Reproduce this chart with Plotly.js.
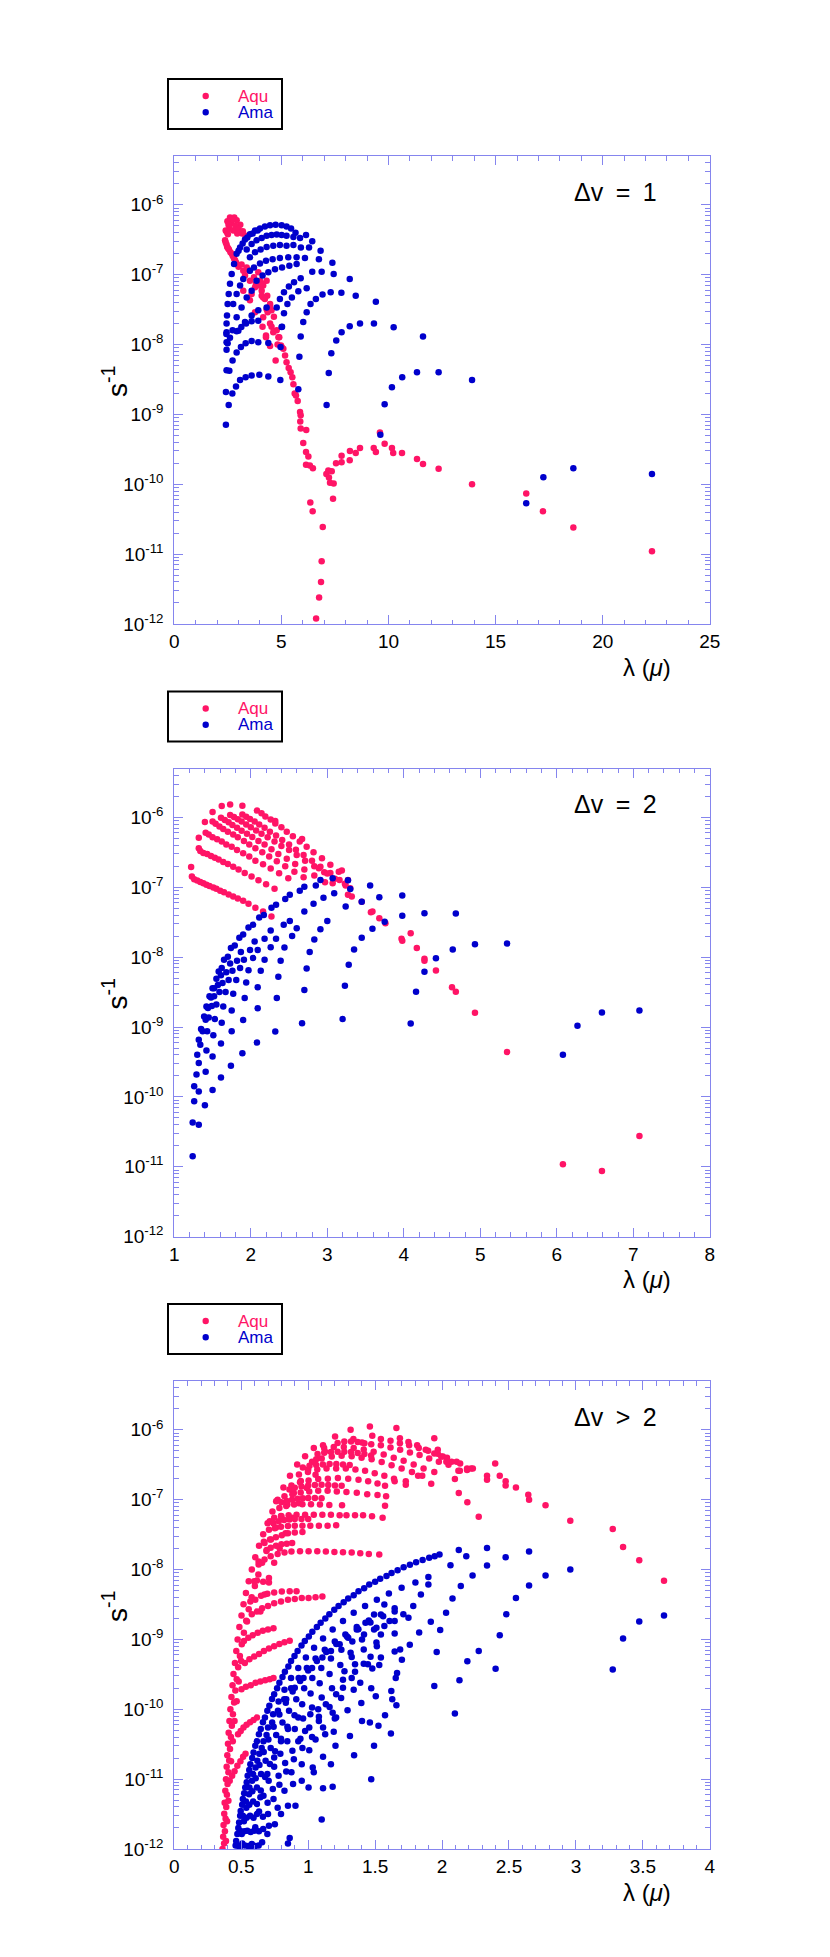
<!DOCTYPE html>
<html>
<head>
<meta charset="utf-8">
<script src="https://cdn.plot.ly/plotly-3.0.1.min.js"></script>
<style>
  html, body { margin: 0; padding: 0; background: #fff; }
  #chart { width: 830px; height: 1957px; }
</style>
</head>
<body>
<div id="chart"></div>
<script>
// values: [lambda (micron), rate (s^-1)]

// ---- panel 1 : dv = 1 ----
var aqu1 = [
  [2.60,6.6e-7],[2.80,6.6e-7],[2.91,6.0e-7],[3.08,5.2e-7],[2.40,4.3e-7],[2.57,4.6e-7],[2.75,4.3e-7],
  [2.94,3.9e-7],[3.17,3.9e-7],[3.33,3.6e-7],[2.37,3.1e-7],[2.44,2.7e-7],[2.55,2.3e-7],[2.68,2.0e-7],
  [2.79,1.7e-7],[2.88,1.5e-7],[3.00,1.3e-7],[3.14,1.4e-7],[3.22,1.14e-7],[3.38,1.27e-7],[3.30,9.7e-8],
  [3.49,1.14e-7],[3.53,8.2e-8],[3.72,9.2e-8],[3.92,1.08e-7],[3.81,7.4e-8],[4.00,8.2e-8],[4.15,7.0e-8],
  [4.31,8.2e-8],[4.08,5.9e-8],[4.15,4.7e-8],[4.34,5.0e-8],[4.47,3.8e-8],[4.31,3.2e-8],[4.54,3.1e-8],
  [4.65,2.5e-8],[4.54,1.8e-8],[4.78,1.6e-8],[4.90,1.27e-8],[4.82,1.0e-8],[5.01,9.2e-9],[3.77,2.9e-8],
  [4.12,1.8e-8],[4.28,1.27e-8],[3.53,4.3e-8],[3.22,5.9e-8],
  [2.40,2.9e-7],[2.47,2.5e-7],[2.51,2.4e-7],[2.62,2.1e-7],[2.73,1.85e-7],[2.84,1.6e-7],[2.94,1.4e-7],
  [2.45,4.1e-7],[2.50,3.8e-7],[2.65,5.5e-7],[2.70,6.2e-7],[2.85,5.0e-7],[3.00,4.5e-7],[3.20,4.2e-7],
  [2.48,5.8e-7],[2.53,5.2e-7],
  [3.61,5.3e-8],[3.77,6.6e-8],[3.97,7.0e-8],[4.12,7.4e-8],[4.08,5.0e-8],[4.23,4.5e-8],[4.47,3.6e-8],
  [4.36,2.9e-8],[4.15,2.45e-8],[4.47,2.0e-8],[4.62,1.5e-8],[4.86,1.27e-8],[4.73,5.9e-9],[4.98,9.7e-9],
  [5.09,8.7e-9],[5.17,7.0e-9],[5.24,5.6e-9],[5.34,4.6e-9],[5.43,4.0e-9],[5.51,3.4e-9],[5.56,2.7e-9],
  [5.62,2.0e-9],[5.68,1.87e-9],[5.76,1.55e-9],[5.87,1.08e-9],[5.90,9.7e-10],[4.47,9.5e-9],[4.28,1.35e-8],
  [5.88,7.9e-10],[5.90,6.3e-10],[6.16,6.0e-10],[6.02,3.9e-10],[6.15,2.9e-10],[6.26,2.5e-10],[6.15,1.9e-10],
  [6.33,1.85e-10],[6.47,1.7e-10],[6.35,5.5e-11],[6.46,4.1e-11],[6.93,2.45e-11],[7.10,1.4e-10],[7.19,1.58e-10],
  [7.22,1.25e-10],[7.35,1.53e-10],[7.27,1.05e-10],[7.44,1.03e-10],[7.41,6.2e-11],[7.55,2.0e-10],[7.81,2.06e-10],
  [7.81,2.57e-10],[8.19,2.2e-10],[8.20,3.0e-10],[8.47,2.8e-10],[8.67,3.3e-10],[9.31,3.3e-10],[9.41,2.9e-10],
  [9.60,5.5e-10],[9.82,3.8e-10],[10.16,3.3e-10],[10.22,2.8e-10],[10.63,2.8e-10],[11.33,2.3e-10],[11.61,1.95e-10],
  [12.34,1.67e-10],[13.90,1.0e-10],[16.43,7.4e-11],[17.21,4.1e-11],[18.63,2.4e-11],[22.3,1.1e-11],
  [6.88,7.9e-12],[6.85,4.0e-12],[6.76,2.4e-12],[6.62,1.2e-12]
];
var ama1 = [
  [2.41,7.1e-10],[2.54,1.36e-9],[2.71,2.0e-9],[2.88,2.5e-9],[3.07,3.1e-9],[3.33,3.4e-9],[3.61,3.6e-9],
  [3.97,3.7e-9],[4.39,3.5e-9],[4.95,3.1e-9],[5.79,2.3e-9],[2.41,2.1e-9],[2.44,4.3e-9],[2.57,4.2e-9],
  [2.72,5.9e-9],[2.91,7.7e-9],[3.11,9.2e-9],[3.33,1.04e-8],[3.61,1.12e-8],[3.92,1.08e-8],[4.39,1.05e-8],
  [4.96,9.2e-9],[5.84,6.7e-9],[7.11,1.36e-9],[7.21,3.9e-9],[7.33,7.5e-9],[2.44,8.4e-9],[2.49,1.04e-8],
  [2.60,1.25e-8],[2.44,1.5e-8],[2.72,1.6e-8],[2.91,1.55e-8],[3.13,1.78e-8],[3.35,2.0e-8],[3.61,2.15e-8],
  [3.92,2.2e-8],[5.01,1.78e-8],[5.12,2.8e-8],[5.90,1.3e-8],[6.02,2.1e-8],[6.18,2.9e-8],[6.36,3.8e-8],
  [6.61,4.5e-8],[6.92,5.2e-8],[7.30,5.6e-8],[7.80,5.5e-8],[8.47,5.0e-8],[9.41,4.1e-8],
  [7.56,1.14e-8],[7.81,1.5e-8],[8.19,1.83e-8],[8.67,2.0e-8],[9.32,2.0e-8],[10.24,1.77e-8],[11.61,1.3e-8],
  [9.82,1.4e-9],[10.16,2.45e-9],[10.64,3.4e-9],[11.33,4.0e-9],[12.34,4.0e-9],[13.90,3.1e-9],
  [16.43,5.35e-11],[17.23,1.26e-10],[18.63,1.7e-10],[22.3,1.4e-10],[9.62,5.1e-10],
  [3.30,3.2e-7],[3.53,3.8e-7],[3.77,4.3e-7],[4.00,4.6e-7],[4.23,4.9e-7],[4.47,5.1e-7],[4.73,5.2e-7],
  [5.01,5.1e-7],[5.24,4.9e-7],[5.45,4.6e-7],[5.66,4.0e-7],[3.07,2.45e-7],[2.91,2.0e-7],[2.79,1.42e-7],
  [2.68,1.02e-7],[2.60,7.4e-8],[2.54,5.3e-8],[2.49,3.8e-8],[2.46,2.6e-8],[2.44,2.0e-8],[2.43,1.42e-8],
  [2.44,1.08e-8],
  [3.38,2.3e-7],[3.61,2.75e-7],[3.84,3.1e-7],[4.08,3.35e-7],[4.31,3.6e-7],[4.54,3.7e-7],[4.78,3.75e-7],
  [5.01,3.7e-7],[5.24,3.6e-7],[5.56,3.45e-7],[5.87,3.35e-7],[6.15,3.7e-7],[6.44,3.0e-7],[6.83,2.2e-7],
  [3.53,1.78e-7],[3.77,2.1e-7],[4.03,2.3e-7],[4.31,2.5e-7],[4.62,2.6e-7],[4.93,2.65e-7],[5.24,2.6e-7],
  [5.56,2.65e-7],[5.91,2.45e-7],[6.29,2.45e-7],[6.75,1.67e-7],[7.38,1.48e-7],
  [3.72,1.27e-7],[4.00,1.45e-7],[4.28,1.58e-7],[4.59,1.67e-7],[4.93,1.73e-7],[5.32,1.77e-7],[5.71,1.77e-7],
  [6.10,1.73e-7],
  [3.84,8.2e-8],[4.12,9.7e-8],[4.39,1.08e-7],[4.70,1.2e-7],[5.03,1.27e-7],[5.37,1.34e-7],[5.71,1.42e-7],
  [6.44,1.1e-7],[6.88,1.1e-7],[7.44,1.02e-7],[8.19,8.7e-8],
  [4.78,3.4e-8],[4.93,4.5e-8],[5.12,5.6e-8],[5.35,6.8e-8],[5.59,7.8e-8],[5.90,8.9e-8],
  [5.03,1.8e-8],[5.28,3.8e-8],[5.49,4.7e-8],[5.79,5.8e-8],[6.18,6.4e-8],
  [2.75,3.8e-8],[2.91,5.3e-8],[3.07,7.0e-8],[3.22,8.7e-8],[3.53,1.14e-7],[2.91,2.45e-8],[3.14,3.4e-8],
  [3.38,4.7e-8],[3.61,5.9e-8],[2.99,1.58e-8],[3.30,2.1e-8],[3.61,2.6e-8],[3.92,3.1e-8],[4.31,3.4e-8],
  [3.00,2.2e-7],[3.19,2.8e-7],[3.41,3.4e-7],[3.66,3.9e-7],[3.89,4.3e-7]
];

// ---- panel 2 : dv = 2 ----
var aqu2 = [
  [1.50,1.19e-6],[1.62,1.45e-6],[1.73,1.53e-6],[1.89,1.47e-6],[2.08,1.25e-6],[2.32,8.9e-7],[2.67,4.9e-7],
  [3.19,1.73e-7],[1.40,8.6e-7],[1.32,5.1e-7],[1.32,3.6e-7],[1.22,1.95e-7],[1.23,1.42e-7],
  [1.26,1.30e-7],[1.30,1.25e-7],[1.34,1.19e-7],[1.38,1.14e-7],[1.42,1.09e-7],[1.46,1.04e-7],[1.51,9.9e-8],
  [1.55,9.5e-8],[1.60,8.9e-8],[1.65,8.5e-8],[1.71,7.9e-8],[1.77,7.4e-8],[1.83,6.9e-8],[1.90,6.4e-8],
  [1.97,5.8e-8],[2.06,5.1e-8],[2.16,4.5e-8],[2.27,3.8e-8],
  [1.34,3.3e-7],[1.38,3.1e-7],[1.43,3.0e-7],[1.48,2.8e-7],[1.53,2.65e-7],[1.58,2.5e-7],[1.64,2.3e-7],
  [1.70,2.15e-7],[1.77,1.97e-7],[1.84,1.79e-7],[1.92,1.6e-7],[2.01,1.42e-7],[2.10,1.26e-7],[2.20,1.1e-7],
  [2.31,9.5e-8],
  [1.41,6.0e-7],[1.45,5.7e-7],[1.50,5.2e-7],[1.56,4.85e-7],[1.62,4.5e-7],[1.68,4.1e-7],[1.75,3.8e-7],
  [1.82,3.4e-7],[1.90,3.06e-7],[1.98,2.75e-7],[2.06,2.4e-7],[2.16,2.13e-7],[2.26,1.85e-7],[2.37,1.58e-7],
  [2.49,1.35e-7],
  [1.50,8.7e-7],[1.54,8.1e-7],[1.59,7.4e-7],[1.64,6.8e-7],[1.70,6.2e-7],[1.77,5.7e-7],[1.83,5.2e-7],
  [1.91,4.6e-7],[1.98,4.1e-7],[2.06,3.6e-7],[2.15,3.16e-7],[2.24,2.75e-7],[2.34,2.35e-7],[2.45,2.0e-7],
  [2.57,1.67e-7],[2.69,1.39e-7],
  [1.61,9.9e-7],[1.66,9.2e-7],[1.71,8.5e-7],[1.76,7.8e-7],[1.82,7.1e-7],[1.88,6.45e-7],[1.95,5.85e-7],
  [2.02,5.25e-7],[2.10,4.6e-7],[2.18,4.1e-7],[2.27,3.5e-7],[2.36,3.0e-7],[2.47,2.55e-7],[2.58,2.15e-7],
  [2.70,1.79e-7],[2.83,1.47e-7],[2.97,1.18e-7],
  [1.73,1.08e-6],[1.78,1.01e-6],[1.83,9.4e-7],[1.88,8.7e-7],[1.94,7.9e-7],[2.00,7.2e-7],[2.07,6.5e-7],
  [2.14,5.85e-7],[2.22,5.2e-7],[2.31,4.5e-7],[2.40,3.9e-7],[2.50,3.4e-7],[2.60,2.9e-7],[2.71,2.4e-7],
  [2.83,2.0e-7],[2.96,1.64e-7],[3.10,1.32e-7],[3.24,1.06e-7],
  [1.89,1.1e-6],[1.94,1.02e-6],[1.99,9.5e-7],[2.05,8.7e-7],[2.11,7.9e-7],[2.18,7.1e-7],[2.25,6.2e-7],
  [2.33,5.5e-7],[2.41,4.75e-7],[2.50,4.1e-7],[2.59,3.45e-7],[2.69,2.9e-7],[2.80,2.4e-7],[2.91,1.97e-7],
  [3.04,1.6e-7],[3.16,1.27e-7],[3.30,9.7e-8],[3.45,6.2e-8],
  [2.14,1.14e-6],[2.19,1.03e-6],[2.26,9.3e-7],[2.32,8.2e-7],[2.40,7.2e-7],[2.47,6.2e-7],[2.55,5.35e-7],
  [2.64,4.5e-7],[2.73,3.8e-7],[2.82,3.16e-7],[2.93,2.6e-7],[3.04,2.1e-7],[3.15,1.67e-7],[3.27,1.27e-7],
  [3.23,1.12e-7],[3.27,7.8e-8],[3.32,7.4e-8],[3.57,4.4e-8],[3.59,4.5e-8],[3.68,3.6e-8],[3.76,3.06e-8],
  [3.97,1.83e-8],[3.98,1.71e-8],[4.09,2.2e-8],[4.17,1.35e-8],[4.27,9.5e-9],[4.27,8.9e-9],[4.42,6.45e-9],
  [4.63,3.7e-9],[4.68,3.2e-9],[4.93,1.6e-9],[5.35,4.4e-10],[6.08,1.09e-11],[6.59,8.7e-12],[7.08,2.75e-11],
  [2.89,1.87e-7],[3.00,1.57e-7],[3.07,1.14e-7]
];
var ama2 = [
  [1.24,1.42e-11],[1.32,4.0e-11],[1.24,4.3e-11],[1.40,7.6e-11],[1.50,1.26e-10],[1.61,1.9e-10],[1.74,2.8e-10],
  [1.89,4.2e-10],[2.08,6.0e-10],[2.32,8.6e-10],[2.67,1.13e-9],[3.20,1.3e-9],[4.09,1.12e-9],[6.08,4.0e-10],
  [1.26,8.7e-11],[1.32,1.2e-10],[1.41,2.3e-10],[1.50,3.8e-10],[1.61,5.8e-10],[1.75,8.7e-10],[1.90,1.26e-9],
  [2.09,1.85e-9],[2.34,2.6e-9],[2.70,3.4e-9],[3.23,3.9e-9],[4.16,3.2e-9],[6.27,1.04e-9],
  [1.26,1.42e-10],[1.29,2.1e-10],[1.32,3.06e-10],[1.42,4.6e-10],[1.51,7.6e-10],[1.62,1.15e-9],[1.75,1.73e-9],
  [1.92,2.6e-9],[2.09,3.7e-9],[2.36,5.25e-9],[2.73,6.9e-9],[3.28,7.8e-9],[4.27,6.2e-9],[6.59,1.62e-9],
  [1.30,4.0e-10],[1.34,5.6e-10],[1.43,8.7e-10],[1.53,1.3e-9],[1.64,1.97e-9],[1.77,3.0e-9],[1.94,4.35e-9],
  [2.13,6.4e-9],[2.39,8.9e-9],[2.77,1.18e-8],[3.35,1.29e-8],[4.42,9.6e-9],[7.08,1.73e-9],
  [1.32,6.6e-10],[1.37,8.7e-10],[1.45,1.37e-9],[1.55,2.1e-9],[1.67,3.16e-9],[1.81,4.7e-9],[1.97,6.5e-9],
  [2.18,9.2e-9],[2.44,1.37e-8],[2.83,1.79e-8],[3.45,1.9e-8],[4.64,1.29e-8],
  [1.35,9.4e-10],[1.41,1.27e-9],[1.49,2.0e-9],[1.59,3.16e-9],[1.71,4.7e-9],[1.86,7.0e-9],[2.03,9.7e-9],
  [2.26,1.39e-8],[2.54,2.0e-8],[2.91,2.5e-8],[3.59,2.55e-8],[4.93,1.53e-8],
  [1.39,1.42e-9],[1.44,1.87e-9],[1.52,2.75e-9],[1.63,4.25e-9],[1.76,6.4e-9],[1.91,9.2e-9],[2.09,1.27e-8],
  [2.33,1.83e-8],[2.60,2.6e-8],[3.00,3.3e-8],[3.75,3.2e-8],[5.35,1.57e-8],
  [1.42,1.97e-9],[1.48,2.65e-9],[1.57,4.0e-9],[1.68,6.1e-9],[1.82,8.9e-9],[1.99,1.27e-8],[2.18,1.83e-8],
  [2.43,2.9e-8],[2.70,4.5e-8],[2.95,7.1e-8],[3.24,5.3e-8],[3.98,3.9e-8],[4.68,4.2e-8],
  [1.46,2.75e-9],[1.52,3.6e-9],[1.61,5.5e-9],[1.73,8.1e-9],[1.87,1.18e-8],[2.05,1.67e-8],[2.26,2.4e-8],
  [2.51,3.3e-8],[2.82,5.8e-8],[3.09,8.2e-8],[3.45,6.2e-8],[3.98,7.6e-8],[4.27,4.25e-8],
  [1.50,3.6e-9],[1.55,4.9e-9],[1.62,7.0e-9],[1.70,1.01e-8],[1.79,1.47e-8],[1.90,2.1e-8],[2.03,2.9e-8],
  [2.17,4.0e-8],[2.33,5.6e-8],[2.51,7.8e-8],[2.70,1.02e-7],[2.91,1.27e-7],[3.07,1.35e-7],[3.27,1.26e-7],
  [3.56,1.06e-7],[3.68,7.2e-8],
  [1.58,6.25e-9],[1.65,9.2e-9],[1.74,1.35e-8],[1.85,1.9e-8],[1.97,2.65e-8],[2.11,3.7e-8],[2.27,5.1e-8],
  [2.45,6.8e-8],[2.64,8.9e-8],[2.85,1.06e-7],[3.30,9.4e-8]
];

// ---- panel 3 : dv > 2 ----
var aqu3 = [
  [0.360,1.0e-12],[0.365,1.5e-12],[0.368,2.2e-12],[0.373,3.2e-12],[0.376,4.6e-12],[0.381,6.8e-12],
  [0.386,1.0e-11],[0.391,1.5e-11],[0.396,2.2e-11],[0.401,3.2e-11],[0.406,4.6e-11],[0.412,6.8e-11],
  [0.419,1.0e-10],[0.427,1.5e-10],[0.435,2.2e-10],[0.442,3.2e-10],[0.453,4.6e-10],[0.463,6.8e-10],
  [0.473,1.0e-9],[0.486,1.5e-9],[0.502,2.2e-9],[0.517,3.2e-9],[0.535,4.6e-9],[0.556,6.8e-9],
  [0.579,1.0e-8],[0.605,1.5e-8],[0.633,2.2e-8],[0.664,3.2e-8],[0.697,4.6e-8],[0.733,6.8e-8],
  [0.772,1.0e-7],[0.815,1.5e-7],[0.864,2.2e-7],[0.918,3.2e-7],[0.977,4.2e-7],[1.042,5.5e-7],[1.111,6.0e-7],
  [0.386,1.3e-12],[0.394,2.5e-12],[0.404,4.9e-12],[0.414,9.5e-12],[0.424,1.8e-11],[0.437,3.5e-11],
  [0.450,6.8e-11],[0.466,1.3e-10],[0.481,2.5e-10],[0.499,4.9e-10],[0.520,9.5e-10],[0.543,1.8e-9],
  [0.568,3.5e-9],[0.597,6.8e-9],[0.630,1.3e-8],[0.669,2.5e-8],[0.713,4.9e-8],[0.761,9.5e-8],
  [0.372,1.2e-12],[0.378,1.8e-12],[0.383,2.7e-12],[0.388,4.0e-12],[0.393,6.0e-12],[0.398,8.5e-12],
  [0.404,1.25e-11],[0.410,1.85e-11],[0.416,2.7e-11],[0.423,4.0e-11],[0.430,5.8e-11],[0.438,8.5e-11],
  [0.447,1.25e-10],[0.456,1.85e-10],[0.466,2.7e-10],[0.477,4.0e-10],[0.490,5.8e-10],[0.504,8.5e-10],
  [0.520,1.25e-9],[0.537,1.85e-9],[0.556,2.7e-9],[0.578,4.0e-9],[0.602,5.8e-9],[0.628,8.5e-9],
  [0.656,1.25e-8],[0.688,1.85e-8],[0.722,2.7e-8],[0.760,4.0e-8],[0.800,5.8e-8],[0.845,8.5e-8],
  [0.893,1.25e-7],[0.945,1.85e-7],[1.000,2.7e-7],[1.060,3.8e-7],[1.125,4.9e-7],
  [0.643,2.5e-9],[0.674,4.4e-9],[0.707,7.6e-9],[0.746,1.25e-8],[0.787,2.0e-8],[0.831,3.3e-8],
  [0.880,5.5e-8],[0.931,8.9e-8],[0.990,1.47e-7],[1.055,2.27e-7],
  [0.432,1.12e-11],[0.450,1.3e-11],[0.471,1.55e-11],[0.494,1.8e-11],[0.514,2.1e-11],[0.532,2.3e-11],
  [0.476,4.4e-11],[0.496,4.9e-11],[0.517,5.5e-11],[0.540,6.0e-11],[0.566,6.5e-11],[0.592,7.0e-11],[0.617,7.6e-11],
  [0.502,1.93e-10],[0.535,2.1e-10],[0.571,2.2e-10],[0.607,2.4e-10],[0.643,2.5e-10],[0.679,2.6e-10],
  [0.713,2.7e-10],[0.741,2.8e-10],
  [0.527,4.6e-10],[0.561,5.2e-10],[0.597,5.7e-10],[0.633,6.2e-10],[0.669,6.8e-10],[0.707,7.4e-10],
  [0.746,8.0e-10],[0.785,8.6e-10],[0.823,9.1e-10],[0.862,9.6e-10],
  [0.553,1.06e-9],[0.586,1.15e-9],[0.623,1.25e-9],[0.661,1.33e-9],[0.700,1.39e-9],[0.741,1.44e-9],
  [0.579,2.3e-9],[0.617,2.5e-9],[0.656,2.8e-9],[0.700,3.0e-9],[0.746,3.3e-9],[0.797,3.5e-9],[0.849,3.7e-9],
  [0.900,3.8e-9],[0.952,3.9e-9],[1.003,3.9e-9],[1.055,4.0e-9],[1.106,4.1e-9],
  [0.605,3.7e-9],[0.648,4.2e-9],[0.695,4.5e-9],[0.746,4.7e-9],[0.803,4.85e-9],[0.862,4.9e-9],[0.913,4.9e-9],
  [0.617,7.0e-9],[0.664,6.7e-9],[0.707,6.5e-9],
  [0.630,1.18e-8],[0.674,1.39e-8],[0.720,1.55e-8],[0.772,1.67e-8],[0.823,1.75e-8],[0.875,1.81e-8],
  [0.939,1.83e-8],[1.003,1.83e-8],[1.068,1.83e-8],[1.132,1.81e-8],[1.196,1.79e-8],[1.260,1.77e-8],
  [1.325,1.75e-8],[1.389,1.71e-8],[1.453,1.67e-8],[1.531,1.64e-8],
  [0.674,2.4e-8],[0.715,2.7e-8],[0.759,2.9e-8],[0.803,3.1e-8],[0.849,3.3e-8],[0.900,3.4e-8],[0.957,3.45e-8],
  [0.707,3.7e-8],[0.751,3.9e-8],[0.797,4.1e-8],[0.849,4.2e-8],[0.900,4.25e-8],[0.957,4.25e-8],
  [1.016,4.25e-8],[1.080,4.25e-8],[1.145,4.25e-8],[1.209,4.3e-8],
  [0.746,5.5e-8],[0.797,5.85e-8],[0.854,6.0e-8],[0.913,6.1e-8],[0.977,6.1e-8],[1.042,6.1e-8],[1.106,6.1e-8],
  [1.170,6.1e-8],[1.235,6.0e-8],[1.286,6.0e-8],[1.350,6.0e-8],[1.410,6.0e-8],[1.477,5.8e-8],[1.556,5.5e-8],
  [0.785,7.6e-8],[0.836,8.1e-8],[0.895,8.5e-8],[0.957,8.6e-8],[1.021,8.6e-8],[1.088,8.5e-8],[1.158,8.4e-8],
  [1.253,8.3e-8],[1.574,8.2e-8],
  [0.823,1.12e-7],[0.882,1.2e-7],[0.944,1.27e-7],[1.008,1.31e-7],[1.075,1.34e-7],[1.145,1.34e-7],
  [1.214,1.31e-7],[1.286,1.29e-7],[1.363,1.26e-7],[1.441,1.2e-7],[1.518,1.17e-7],[1.582,1.12e-7],
  [0.875,1.6e-7],[0.939,1.77e-7],[1.003,1.89e-7],[1.075,1.97e-7],[1.147,2.0e-7],[1.222,2.04e-7],
  [1.299,2.0e-7],[1.376,1.93e-7],[1.448,1.83e-7],[1.518,1.71e-7],[1.574,1.58e-7],
  [0.931,2.3e-7],[0.998,2.5e-7],[1.068,2.7e-7],[1.137,2.8e-7],[1.209,2.8e-7],[1.281,2.8e-7],[1.353,2.7e-7],
  [1.425,2.6e-7],[1.497,2.4e-7],[1.569,2.2e-7],[1.641,2.0e-7],[1.729,1.83e-7],
  [1.029,3.5e-7],[1.101,3.9e-7],[1.176,4.15e-7],[1.250,4.25e-7],[1.325,4.2e-7],[1.399,4.0e-7],
  [1.474,3.8e-7],[1.549,3.45e-7],[1.623,3.1e-7],[1.698,2.8e-7],[1.775,2.5e-7],[1.852,2.2e-7],
  [1.119,5.5e-7],[1.191,5.7e-7],[1.266,5.7e-7],[1.340,5.5e-7],[1.415,5.25e-7],[1.489,4.85e-7],
  [1.564,4.45e-7],[1.639,4.0e-7],[1.713,3.6e-7],[1.788,3.2e-7],[1.862,2.8e-7],[1.942,2.5e-7],
  [1.317,1.0e-6],[1.338,7.4e-7],[1.402,6.6e-7],[1.471,6.2e-7],[1.543,6.0e-7],[1.615,5.6e-7],[1.687,5.2e-7],
  [1.760,4.75e-7],[1.832,4.35e-7],[1.904,3.9e-7],[1.976,3.5e-7],[2.048,3.16e-7],[2.122,2.6e-7],
  [1.461,1.12e-6],[1.479,8.2e-7],[1.543,7.4e-7],[1.615,7.0e-7],[1.685,6.45e-7],[1.754,6.0e-7],
  [1.826,5.5e-7],[1.896,5.0e-7],[1.968,4.55e-7],[2.037,4.0e-7],[2.109,3.5e-7],[2.187,2.8e-7],
  [1.659,1.06e-6],[1.685,7.6e-7],[1.749,6.7e-7],[1.814,6.0e-7],[1.878,5.2e-7],[1.942,4.6e-7],
  [2.006,4.15e-7],[2.071,3.5e-7],[2.135,3.3e-7],[2.217,2.8e-7],
  [1.942,7.6e-7],[1.968,5.2e-7],[1.994,4.15e-7],[2.032,3.5e-7],[1.201,8.0e-7],
  [0.96,2.9e-7],[1.01,3.05e-7],[1.06,3.15e-7],[1.11,3.2e-7],[1.16,3.25e-7],[1.21,3.25e-7],[1.26,3.2e-7],[1.31,3.15e-7],
  [0.86,1.4e-7],[0.90,1.48e-7],[0.95,1.55e-7],[1.00,1.6e-7],[1.05,1.62e-7],[1.10,1.63e-7],[1.15,1.62e-7],
  [1.20,1.6e-7],[1.25,1.58e-7],
  [0.80,9.2e-8],[0.84,9.6e-8],[0.88,1.0e-7],[0.92,1.03e-7],[0.96,1.05e-7],[1.00,1.06e-7],[1.05,1.06e-7],[1.10,1.05e-7],
  [0.74,4.6e-8],[0.78,4.9e-8],[0.82,5.1e-8],[0.86,5.2e-8],[0.90,5.3e-8],[0.95,5.3e-8],[1.00,5.3e-8],
  [0.69,1.9e-8],[0.72,2.05e-8],[0.76,2.2e-8],[0.80,2.3e-8],[0.84,2.35e-8],[0.88,2.4e-8],
  [1.07,4.5e-7],[1.12,4.7e-7],[1.17,4.8e-7],[1.22,4.85e-7],[1.27,4.85e-7],[1.32,4.8e-7],[1.37,4.65e-7],
  [1.42,4.5e-7],[1.47,4.3e-7],
  [1.22,6.5e-7],[1.27,6.8e-7],[1.32,6.8e-7],[1.37,6.7e-7],[1.42,6.4e-7],
  [2.397,3.3e-7],[2.336,2.2e-7],[2.336,1.93e-7],[2.431,2.2e-7],[2.475,1.83e-7],[2.475,1.6e-7],
  [2.552,1.5e-7],[2.644,1.18e-7],[2.650,1.0e-7],[2.773,8.3e-8],[2.958,5.0e-8],[3.275,3.8e-8],
  [3.352,2.1e-8],[3.473,1.36e-8],[3.658,6.9e-9],[2.125,1.25e-7],[2.189,9.2e-8],[2.274,5.7e-8],
  [1.919,1.69e-7],[2.096,1.97e-7],[2.133,2.6e-7],[2.187,2.65e-7],[2.230,2.8e-7],[1.729,1.64e-7],
  [1.646,1.83e-7],[1.821,2.2e-7]
];
var ama3 = [
  [0.458,1.12e-12],[0.471,1.64e-12],[0.484,2.4e-12],[0.496,3.5e-12],[0.512,5.2e-12],[0.530,7.6e-12],
  [0.548,1.12e-11],[0.568,1.64e-11],[0.592,2.4e-11],[0.617,3.5e-11],[0.646,5.2e-11],[0.677,7.6e-11],
  [0.710,1.12e-10],[0.746,1.64e-10],[0.785,2.4e-10],[0.826,3.45e-10],[0.872,4.9e-10],[0.921,6.8e-10],
  [0.975,9.5e-10],[1.031,1.29e-9],[1.093,1.73e-9],[1.158,2.3e-9],[1.227,3.0e-9],[1.299,3.85e-9],
  [1.376,4.9e-9],[1.456,6.1e-9],[1.538,7.4e-9],[1.623,8.9e-9],[1.713,1.08e-8],[1.806,1.27e-8],
  [1.904,1.47e-8],[1.981,1.64e-8],
  [0.462,1.3e-12],[0.478,2.0e-12],[0.492,3.0e-12],[0.507,4.3e-12],[0.522,6.3e-12],[0.541,9.0e-12],
  [0.560,1.35e-11],[0.582,2.0e-11],[0.605,3.0e-11],[0.632,4.4e-11],[0.662,6.5e-11],[0.695,9.5e-11],
  [0.730,1.4e-10],[0.768,2.0e-10],[0.808,2.9e-10],[0.852,4.1e-10],[0.898,5.8e-10],[0.950,8.2e-10],
  [1.005,1.1e-9],[1.065,1.5e-9],[1.128,2.0e-9],[1.195,2.65e-9],[1.265,3.4e-9],[1.340,4.3e-9],
  [1.418,5.4e-9],[1.500,6.7e-9],[1.585,8.1e-9],[1.668,9.8e-9],[1.760,1.17e-8],[1.855,1.37e-8],[1.945,1.55e-8],
  [0.473,1.12e-12],[0.491,1.83e-12],[0.512,3.0e-12],[0.535,4.8e-12],[0.561,7.6e-12],[0.589,1.18e-11],
  [0.620,1.83e-11],[0.653,2.8e-11],[0.689,4.3e-11],[0.731,6.45e-11],[0.774,9.5e-11],[0.821,1.39e-10],
  [0.872,2.0e-10],[0.929,2.8e-10],[0.990,3.9e-10],[1.055,5.35e-10],[1.124,7.1e-10],[1.199,9.3e-10],
  [1.278,1.18e-9],[1.363,1.5e-9],[1.453,1.87e-9],[1.543,2.27e-9],[1.646,2.8e-9],
  [0.489,1.06e-12],[0.504,1.64e-12],[0.520,2.5e-12],[0.538,3.9e-12],[0.558,6.1e-12],[0.581,9.5e-12],
  [0.607,1.47e-11],[0.635,2.3e-11],[0.666,3.5e-11],[0.700,5.5e-11],[0.738,8.5e-11],[0.779,1.29e-10],
  [0.823,1.9e-10],[0.872,2.8e-10],[0.926,3.9e-10],[0.983,5.5e-10],[1.044,7.6e-10],[1.111,1.03e-9],
  [1.183,1.39e-9],[1.260,1.83e-9],[1.340,2.4e-9],[1.425,3.0e-9],[1.513,3.7e-9],[1.603,4.55e-9],
  [1.698,5.5e-9],[1.801,6.5e-9],[1.898,7.8e-9],
  [0.508,1.2e-12],[0.523,1.8e-12],[0.540,2.8e-12],[0.560,4.3e-12],[0.583,6.7e-12],[0.608,1.03e-11],
  [0.636,1.6e-11],[0.668,2.45e-11],[0.703,3.7e-11],[0.742,5.6e-11],[0.785,8.4e-11],[0.833,1.24e-10],
  [0.884,1.8e-10],[0.940,2.55e-10],[1.000,3.6e-10],[1.065,4.9e-10],[1.135,6.6e-10],[1.210,8.6e-10],
  [1.290,1.1e-9],[1.375,1.4e-9],[1.465,1.75e-9],[1.560,2.15e-9],
  [0.527,1.12e-12],[0.545,1.83e-12],[0.566,3.0e-12],[0.589,4.8e-12],[0.617,7.6e-12],[0.648,1.18e-11],
  [0.682,1.83e-11],[0.720,2.8e-11],[0.761,4.3e-11],[0.808,6.45e-11],[0.857,9.5e-11],[0.911,1.39e-10],
  [0.970,2.0e-10],[1.031,2.8e-10],[1.098,3.9e-10],[1.170,5.35e-10],[1.248,7.1e-10],[1.330,9.3e-10],
  [1.417,1.18e-9],[1.510,1.47e-9],[1.608,1.83e-9],[1.711,2.3e-9],
  [0.552,1.1e-12],[0.570,1.75e-12],[0.592,2.8e-12],[0.617,4.4e-12],[0.646,6.9e-12],[0.678,1.07e-11],
  [0.714,1.65e-11],[0.753,2.5e-11],[0.797,3.8e-11],[0.845,5.6e-11],[0.898,8.2e-11],[0.955,1.18e-10],
  [1.018,1.68e-10],[1.086,2.35e-10],[1.160,3.2e-10],[1.240,4.3e-10],[1.325,5.6e-10],[1.415,7.2e-10],[1.510,9.0e-10],
  [0.579,1.18e-12],[0.605,2.04e-12],[0.633,3.45e-12],[0.666,5.8e-12],[0.705,9.5e-12],[0.746,1.5e-11],
  [0.792,2.3e-11],[0.844,3.5e-11],[0.900,5.2e-11],[0.962,7.4e-11],[1.029,1.06e-10],[1.101,1.47e-10],
  [1.178,2.0e-10],[1.260,2.65e-10],[1.350,3.45e-10],[1.446,4.4e-10],[1.543,5.5e-10],[1.646,6.7e-10],
  [0.605,1.1e-12],[0.632,1.8e-12],[0.662,2.9e-12],[0.697,4.6e-12],[0.736,7.2e-12],[0.779,1.12e-11],
  [0.828,1.7e-11],[0.882,2.55e-11],[0.942,3.8e-11],[1.008,5.5e-11],[1.080,7.8e-11],[1.160,1.08e-10],
  [1.246,1.45e-10],[1.340,1.9e-10],
  [0.630,1.12e-12],[0.664,1.93e-12],[0.700,3.16e-12],[0.741,5.2e-12],[0.785,8.3e-12],[0.836,1.29e-11],
  [0.893,1.93e-11],[0.957,2.8e-11],[1.029,4.0e-11],[1.111,5.5e-11],[1.199,7.4e-11],[1.294,9.7e-11],
  [1.397,1.23e-10],[1.505,1.53e-10],[1.621,1.83e-10],
  [2.125,1.9e-8],[2.336,2.04e-8],[2.650,1.81e-8],[2.475,1.5e-8],[2.181,1.55e-8],[2.063,1.15e-8],
  [2.336,1.14e-8],[2.228,8.2e-9],[2.773,8.2e-9],[2.958,1.0e-8],[2.140,5.8e-9],[2.650,5.9e-9],
  [2.552,3.9e-9],[2.078,3.85e-9],[2.480,2.3e-9],[2.030,2.4e-9],[1.916,1.79e-9],[1.986,1.36e-9],
  [3.352,1.03e-9],[3.473,1.81e-9],[3.658,2.2e-9],[2.431,1.15e-9],[2.274,6.8e-10],[1.960,6.6e-10],
  [2.189,4.85e-10],[2.400,3.8e-10],[3.275,3.7e-10],[1.942,2.15e-10],[2.130,2.6e-10],[2.096,8.7e-11],
  [1.898,6.1e-9],[1.842,4.4e-9],[1.785,3.0e-9],[1.749,2.04e-9],[1.829,1.26e-9],[1.759,8.4e-10],
  [1.687,7.2e-10],[1.700,5.1e-10],[1.664,3.3e-10],[1.654,2.8e-10],[1.628,1.39e-10],[1.659,1.14e-10],
  [1.574,8.2e-11],[1.618,4.5e-11],[1.525,5.8e-11],[1.461,6.45e-11],[1.492,3.0e-11],[1.343,2.2e-11],
  [1.471,1.0e-11],[1.183,7.8e-12],[1.111,7.4e-12],[1.101,2.65e-12],[0.862,1.44e-12],[0.849,1.2e-12],
  [1.312,4.15e-11],[1.209,7.6e-11],[1.183,8.9e-11],[1.402,6.8e-11],[1.389,2.4e-10],[1.471,2.0e-10],
  [1.531,4.3e-10],[1.479,3.85e-10],[1.415,4.5e-10],[1.350,4.4e-10],[1.466,5.65e-10],[1.513,8.0e-10],
  [1.543,1.18e-9],[1.646,1.22e-9],[1.646,1.83e-9],[1.569,1.55e-9],[1.492,1.39e-9],[1.402,1.0e-9],
  [1.317,6.45e-10],[1.271,3.5e-10],[1.325,2.8e-10],[1.260,2.04e-10],[1.209,1.64e-10],[1.132,1.18e-10],
  [1.191,4.75e-11],[1.204,3.0e-11],[1.111,2.1e-11],[1.170,1.64e-11],[1.034,1.47e-11],[1.042,1.25e-11],
  [1.003,7.6e-12],[0.952,9.5e-12],[0.887,8.5e-12],[0.905,4.15e-12],[0.849,4.15e-12],[0.797,3.16e-12],
  [0.751,2.27e-12],[0.695,1.64e-12],[0.656,1.25e-12],[0.707,2.15e-12],[0.772,3.9e-12],[0.823,6.8e-12],
  [0.875,1.25e-11],[0.952,1.64e-11],[1.008,2.6e-11],[1.055,3.7e-11],[1.127,4.4e-11],[1.080,6.8e-11],
  [0.977,4.9e-11],[0.926,3.5e-11],[1.016,8.5e-11],[1.075,1.0e-10],[0.926,7.6e-11],[0.797,3.5e-11],
  [0.746,2.04e-11],[0.695,1.18e-11],[0.849,5.2e-11],[0.643,5.5e-12],[0.617,3.16e-12],[0.597,1.83e-12],
  [0.566,1.06e-12],
  [1.569,3.16e-9],[1.646,2.5e-9],[1.492,2.27e-9],[1.428,1.73e-9],[1.363,1.39e-9],[1.299,1.06e-9],
  [1.235,8.5e-10],[1.170,6.8e-10],[1.106,5.5e-10],[1.029,3.9e-10],[0.965,2.8e-10],[0.900,2.04e-10],
  [0.836,1.39e-10]
];

var PINK = '#ff1466', BLUE = '#0000cc', AXC = '#8585ee';
var W = 830, H = 1957;
var FONT = 'Liberation Sans, Arial, Helvetica, sans-serif';

// panel frames in page pixels
var frames = [
  {top: 156, bottom: 624, xr: [0, 25], dt: 5, mdt: 1, label: 'Δv\u2002=\u20021', aqu: aqu1, ama: ama1},
  {top: 768.5, bottom: 1236.7, xr: [1, 8], dt: 1, mdt: 0.2, label: 'Δv\u2002=\u20022', aqu: aqu2, ama: ama2},
  {top: 1381, bottom: 1849, xr: [0, 4], dt: 0.5, mdt: 0.1, label: 'Δv\u2002>\u20022', aqu: aqu3, ama: ama3}
];
var xLeft = 174.3, xRight = 709.8;
function py(p) { return 1 - p / H; }
function px(p) { return p / W; }

// decade ticks 1e-12 .. 1e-6 and 2..9 minor ticks
var decades = [-12, -11, -10, -9, -8, -7, -6];
var majorVals = decades.map(function(d) { return Math.pow(10, d); });
var majorText = decades.map(function(d) { return '10<sup>' + d + '</sup>'; });
var minorVals = [];
decades.forEach(function(d) {
  for (var k = 2; k <= 9; k++) minorVals.push(k * Math.pow(10, d));
});

var traces = [], annotations = [], shapes = [];
var layout = {
  width: W, height: H,
  margin: {l: 0, r: 0, t: 0, b: 0},
  paper_bgcolor: '#ffffff', plot_bgcolor: '#ffffff',
  showlegend: false,
  font: {family: FONT, color: '#000'}
};

frames.forEach(function(f, i) {
  var n = i === 0 ? '' : String(i + 1);
  var xa = 'x' + n, ya = 'y' + n;

  [['Aqu', f.aqu, PINK], ['Ama', f.ama, BLUE]].forEach(function(s) {
    traces.push({
      type: 'scatter', mode: 'markers', name: s[0],
      x: s[1].map(function(p) { return p[0]; }),
      y: s[1].map(function(p) { return p[1]; }),
      xaxis: xa, yaxis: ya,
      marker: {size: 6.5, color: s[2], line: {width: 0}},
      hoverinfo: 'x+y'
    });
  });

  layout['xaxis' + n] = {
    domain: [px(xLeft), px(xRight)], anchor: ya,
    range: f.xr, tickmode: 'linear', tick0: 0, dtick: f.dt,
    ticks: 'inside', ticklen: 9, tickwidth: 1, tickcolor: AXC,
    showline: true, linecolor: AXC, linewidth: 1, mirror: 'ticks',
    showgrid: false, zeroline: false,
    tickfont: {family: FONT, size: 19, color: '#000'},
    minor: {dtick: f.mdt, tick0: 0, ticks: 'inside', ticklen: 4.5, tickwidth: 1, tickcolor: AXC, showgrid: false}
  };
  layout['yaxis' + n] = {
    domain: [py(f.bottom), py(f.top)], anchor: xa,
    type: 'log', range: [-12, Math.log10(5e-6)],
    tickmode: 'array', tickvals: majorVals, ticktext: majorText,
    ticks: 'inside', ticklen: 9, tickwidth: 1, tickcolor: AXC,
    showline: true, linecolor: AXC, linewidth: 1, mirror: 'ticks',
    showgrid: false, zeroline: false,
    tickfont: {family: FONT, size: 19, color: '#000'},
    ticklabelstandoff: 6,
    minor: {tickmode: 'array', tickvals: minorVals, ticks: 'inside', ticklen: 4.5, tickwidth: 1, tickcolor: AXC, showgrid: false}
  };

  // panel label
  annotations.push({
    xref: 'paper', yref: 'paper', x: px(572), y: py(f.top + 36),
    xanchor: 'left', yanchor: 'middle', showarrow: false,
    text: f.label, font: {family: FONT, size: 25, color: '#000'}
  });
  // y title
  annotations.push({
    xref: 'paper', yref: 'paper', x: px(115), y: py((f.top + f.bottom) / 2 - 8),
    xanchor: 'center', yanchor: 'middle', showarrow: false, textangle: -90,
    text: 's<sup>-1</sup>', font: {family: FONT, size: 28, color: '#000'}
  });
  // x title
  annotations.push({
    xref: 'paper', yref: 'paper', x: px(673), y: py(f.bottom + 43),
    xanchor: 'right', yanchor: 'middle', showarrow: false,
    text: 'λ (<i>μ</i>)', font: {family: FONT, size: 24, color: '#000'}
  });

  // legend box above each panel
  var lt = f.top - 77;
  shapes.push({
    type: 'rect', xref: 'paper', yref: 'paper',
    x0: px(168), x1: px(282), y0: py(lt + 50), y1: py(lt),
    line: {color: '#000', width: 2}, fillcolor: '#fff'
  });
  [['Aqu', PINK, lt + 17], ['Ama', BLUE, lt + 33.3]].forEach(function(r) {
    shapes.push({
      type: 'circle', xref: 'paper', yref: 'paper',
      xsizemode: 'pixel', ysizemode: 'pixel',
      xanchor: px(205.7), yanchor: py(r[2]),
      x0: -3.2, x1: 3.2, y0: -3.2, y1: 3.2,
      fillcolor: r[1], line: {width: 0}
    });
    annotations.push({
      xref: 'paper', yref: 'paper', x: px(235.5), y: py(r[2]),
      xanchor: 'left', yanchor: 'middle', showarrow: false,
      text: r[0], font: {family: FONT, size: 17, color: r[1]}
    });
  });
});

layout.annotations = annotations;
layout.shapes = shapes;

Plotly.newPlot('chart', traces, layout, {displayModeBar: false, staticPlot: true});
</script>
</body>
</html>
